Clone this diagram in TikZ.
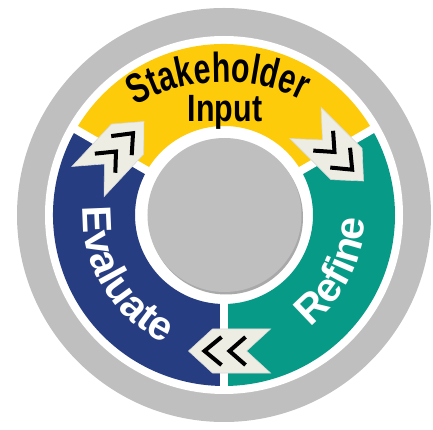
\documentclass[tikz,border=0pt]{standalone}
\usepackage{fontspec}
\setmainfont{Liberation Sans}
\newfontfamily\narrowsans{Liberation Sans}[FakeStretch=0.8]
\newfontfamily\tightsans{Liberation Sans}[FakeStretch=0.72]
\usepackage{tikz}
\usetikzlibrary{decorations.text}
\definecolor{ringgray}{HTML}{BFBFBF}
\definecolor{shadegray}{HTML}{A9A9A9}
\definecolor{inputgold}{HTML}{FDCB0A}
\definecolor{refineteal}{HTML}{079B87}
\definecolor{evalblue}{HTML}{263D81}
\definecolor{chevcream}{HTML}{EEEDE4}

\begin{document}
\begin{tikzpicture}[x=1pt,y=1pt,line join=miter,
  gap/.style={white,line width=8pt},
  stripe/.style={black,line width=4pt}]
\useasboundingbox (-224,-215) rectangle (209,215);
% outer rings
\fill[ringgray] (0,0) circle[radius=207];
\fill[white] (0,0) circle[radius=179];
% the three segments
\fill[inputgold] (30:171) arc[start angle=30,end angle=150,radius=171] -- (150:89) arc[start angle=150,end angle=30,radius=89] -- cycle;
\fill[evalblue] (150:171) arc[start angle=150,end angle=270,radius=171] -- (270:89) arc[start angle=270,end angle=150,radius=89] -- cycle;
\fill[refineteal] (-90:171) arc[start angle=-90,end angle=30,radius=171] -- (30:89) arc[start angle=30,end angle=-90,radius=89] -- cycle;
\draw[gap] (30:85) -- (30:175);
\draw[gap] (150:85) -- (150:175);
\draw[gap] (270:85) -- (270:175);
% hub
\fill[shadegray] (2,-2.5) circle[radius=77];
\fill[ringgray] (0.5,0) circle[radius=77];
% labels
\path[decorate,decoration={text along path,text align=center,
  text={|\tightsans\bfseries\fontsize{42}{44}\selectfont|Stakeholder}}]
  (0,-40) ++(132:173) arc[start angle=132,end angle=52,radius=173];
\node[anchor=base,font=\narrowsans\bfseries\fontsize{38}{40}\selectfont] (input) at (1,93) {Input};
\path[decorate,decoration={text along path,text align=center,
  text={|\bfseries\fontsize{41}{44}\selectfont\color{white}|Evaluate}}]
  (150:141) arc[start angle=150,end angle=272,radius=141];
\path[decorate,decoration={text along path,text align=center,
  text={|\bfseries\fontsize{41}{44}\selectfont\color{white}|Refine}}]
  (-70:141) arc[start angle=-70,end angle=16,radius=141];
% chevrons
\foreach \cx/\cy/\rot in {-108/63.5/47, 110.5/63/-45, 5.5/-136/180}{
  \begin{scope}[shift={(\cx,\cy)},rotate=\rot]
    \filldraw[fill=chevcream,draw=black!15,line width=0.6pt] (-41,22) -- (17,22) -- (41,0) -- (17,-22) -- (-41,-22) -- (-17,0) -- cycle;
    \draw[stripe] (8,14) -- (25,0) -- (8,-14);
    \draw[stripe] (-16,14) -- (0,0) -- (-16,-14);
  \end{scope}
}
\end{tikzpicture}
\end{document}
